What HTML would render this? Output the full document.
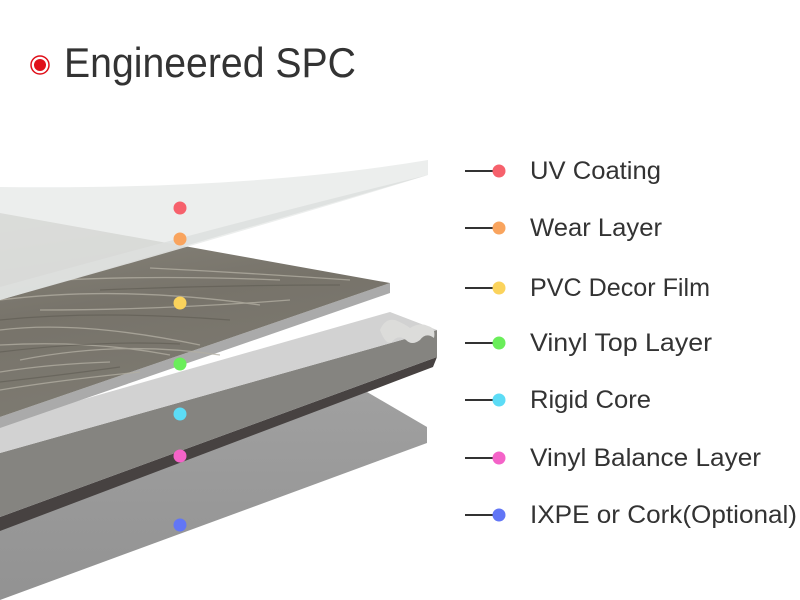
<!DOCTYPE html>
<html><head><meta charset="utf-8"><style>html,body{margin:0;padding:0;background:#fff}svg{display:block}</style></head>
<body>
<svg width="800" height="600" viewBox="0 0 800 600" xmlns="http://www.w3.org/2000/svg" font-family="Liberation Sans, sans-serif">
<defs>
<linearGradient id="wood" x1="0" y1="0" x2="0.3" y2="1">
<stop offset="0" stop-color="#8a877d"/><stop offset="0.5" stop-color="#77736a"/><stop offset="1" stop-color="#7e7b72"/>
</linearGradient>
<linearGradient id="cork" x1="0" y1="0" x2="0" y2="1">
<stop offset="0" stop-color="#a0a0a0"/><stop offset="1" stop-color="#929292"/>
</linearGradient>
</defs>
<rect width="800" height="600" fill="#fff"/>
<!-- cork -->
<polygon points="0,520 367,392 427,427 427,443 0,600" fill="url(#cork)"/>
<!-- core -->
<polygon points="0,517 437,357 433,367 0,531" fill="#474241"/>
<polygon points="0,453 437,330 437,357 0,517" fill="#858480"/>
<polygon points="0,423 390,312 437,330 0,453" fill="#d2d2d2"/>
<path d="M380,330 q5,-12 15,-10 q10,4 15,8 q10,-6 18,-2 q8,2 6,12 q-8,-6 -14,2 q-8,6 -14,0 q-8,-6 -14,2 q-6,4 -12,-12z" fill="#dcdcda"/>
<!-- decor film -->
<polygon points="390,283 390,293 0,428 0,417" fill="#aaaaaa"/>
<polygon points="0,213 390,283 0,417" fill="url(#wood)"/>
<g stroke="#b4b0a4" stroke-width="1.3" fill="none" opacity="0.75">
<path d="M0,330 q80,-10 200,15"/><path d="M20,360 q100,-20 200,-5"/><path d="M0,300 q120,-15 260,5"/><path d="M0,390 q60,-10 140,-18"/><path d="M60,280 q100,-5 220,0"/>
<path d="M0,345 q90,-5 170,10"/><path d="M0,372 q50,-8 110,-10"/><path d="M40,310 q120,0 250,-10"/><path d="M150,268 q100,5 200,12"/>
</g>
<g stroke="#5e5b52" stroke-width="1.2" fill="none" opacity="0.6">
<path d="M0,320 q100,-10 230,0"/><path d="M0,352 q100,-12 180,-8"/><path d="M0,382 q70,-8 120,-15"/><path d="M100,290 q120,-5 240,-5"/>
</g>
<!-- UV film -->
<path d="M0,187 Q250,190 428,160 L428,175 Q250,230 0,300 Z" fill="#e9ebea" opacity="0.85"/>
<path d="M0,287 Q250,218 428,175 L0,300 Z" fill="#dddfde" opacity="0.85"/>
<!-- dots -->
<circle cx="180" cy="208" r="6.5" fill="#f6616c"/>
<circle cx="180" cy="239" r="6.5" fill="#f9a45e"/>
<circle cx="180" cy="303" r="6.5" fill="#fbd35c"/>
<circle cx="180" cy="364" r="6.5" fill="#6aee5a"/>
<circle cx="180" cy="414" r="6.5" fill="#5cdcf6"/>
<circle cx="180" cy="456" r="6.5" fill="#f463c8"/>
<circle cx="180" cy="525" r="6.5" fill="#6276f6"/>
<!-- title -->
<circle cx="40" cy="65" r="9" fill="#fff" stroke="#e0101a" stroke-width="1.5"/>
<circle cx="40" cy="65" r="6" fill="#e0101a"/>
<text x="64" y="77" font-size="42" fill="#333" textLength="292" lengthAdjust="spacingAndGlyphs">Engineered SPC</text>
<!-- legend -->
<g stroke="#333" stroke-width="2">
<line x1="465" y1="171" x2="494" y2="171"/><line x1="465" y1="228" x2="494" y2="228"/><line x1="465" y1="288" x2="494" y2="288"/><line x1="465" y1="343" x2="494" y2="343"/><line x1="465" y1="400" x2="494" y2="400"/><line x1="465" y1="458" x2="494" y2="458"/><line x1="465" y1="515" x2="494" y2="515"/>
</g>
<circle cx="499" cy="171" r="6.5" fill="#f6616c"/>
<circle cx="499" cy="228" r="6.5" fill="#f9a45e"/>
<circle cx="499" cy="288" r="6.5" fill="#fbd35c"/>
<circle cx="499" cy="343" r="6.5" fill="#6aee5a"/>
<circle cx="499" cy="400" r="6.5" fill="#5cdcf6"/>
<circle cx="499" cy="458" r="6.5" fill="#f463c8"/>
<circle cx="499" cy="515" r="6.5" fill="#6276f6"/>
<g font-size="25" fill="#333">
<text x="530" y="179" textLength="131" lengthAdjust="spacingAndGlyphs">UV Coating</text>
<text x="530" y="236" textLength="132" lengthAdjust="spacingAndGlyphs">Wear Layer</text>
<text x="530" y="296" textLength="180" lengthAdjust="spacingAndGlyphs">PVC Decor Film</text>
<text x="530" y="351" textLength="182" lengthAdjust="spacingAndGlyphs">Vinyl Top Layer</text>
<text x="530" y="408" textLength="121" lengthAdjust="spacingAndGlyphs">Rigid Core</text>
<text x="530" y="466" textLength="231" lengthAdjust="spacingAndGlyphs">Vinyl Balance Layer</text>
<text x="530" y="523" textLength="267" lengthAdjust="spacingAndGlyphs">IXPE or Cork(Optional)</text>
</g>
</svg>
</body></html>
